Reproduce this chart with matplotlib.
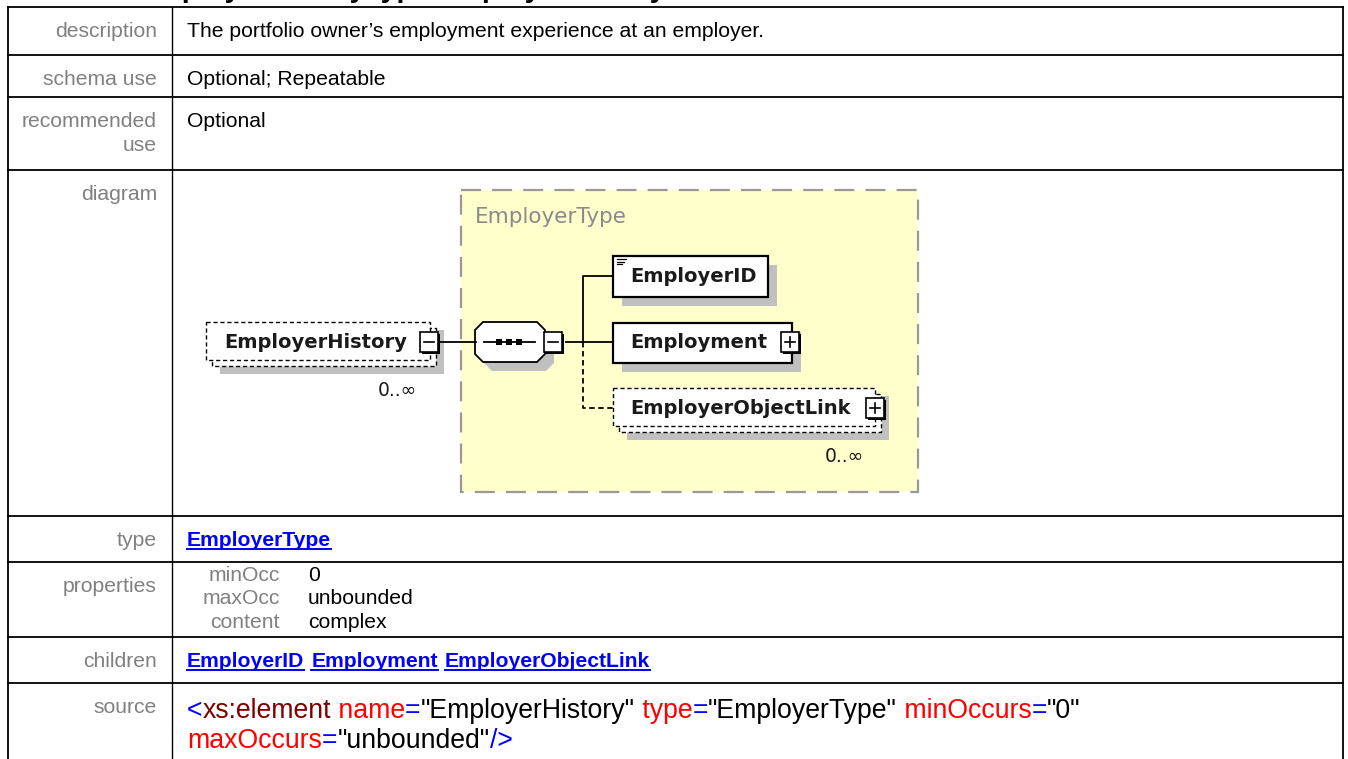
import matplotlib.pyplot as plt
from matplotlib.patches import Rectangle, Polygon

# table content
row_labels = ["description", "schema use", "recommended\nuse", "diagram", "type",
              "properties", "children", "source"]
row_values = ["The portfolio owner\u2019s employment experience at an employer.",
              "Optional; Repeatable", "Optional", "", "", "", "", ""]
type_link = "EmployerType"
prop_names = ["minOcc", "maxOcc", "content"]
prop_values = ["0", "unbounded", "complex"]
children_links = ["EmployerID", "Employment", "EmployerObjectLink"]
title_text = "element EmployerHistoryType/EmployerHistory"

# source: (text, colour) pieces, two lines
source_lines = [
    [("<", "#0000ff"), ("xs:element", "#800000"), (" name", "#ff0000"), ("=", "#0000ff"),
     ("\"EmployerHistory\"", "#000000"), (" type", "#ff0000"), ("=", "#0000ff"),
     ("\"EmployerType\"", "#000000"), (" minOccurs", "#ff0000"), ("=", "#0000ff"),
     ("\"0\"", "#000000")],
    [("maxOccurs", "#ff0000"), ("=", "#0000ff"), ("\"unbounded\"", "#000000"), ("/>", "#0000ff")],
]

# layout (pixels)
W, H = 1348, 759
row_edges = [7, 55, 97, 170, 516, 562, 637, 683, 770]
x_left, x_div, x_right = 8, 172, 1343

fig = plt.figure(figsize=(W / 100, H / 100), dpi=100)
ax = fig.add_axes([0, 0, 1, 1])
ax.set_xlim(0, W)
ax.set_ylim(H, 0)
ax.axis("off")

font = "Liberation Sans"
gray = "#808080"
fs = 15.2

# title (mostly cut off at top)
ax.text(22, -3, title_text, fontsize=20.5, fontweight="bold", family=font,
        ha="left", va="baseline", clip_on=False)

# grid lines
for y in row_edges:
    ax.plot([x_left, x_right], [y, y], color="black", lw=1.3)
ax.plot([x_left, x_left], [row_edges[0], H], color="black", lw=1.3)
ax.plot([x_right, x_right], [row_edges[0], H], color="black", lw=1.3)
ax.plot([x_div, x_div], [row_edges[0], H], color="black", lw=1.0)

for i, lab in enumerate(row_labels):
    top = row_edges[i]
    lines = lab.split("\n")
    for k, ln in enumerate(lines):
        ax.text(157, top + 30 + k * 24, ln, fontsize=fs, family=font, color=gray,
                ha="right", va="baseline")
    if row_values[i]:
        ax.text(187, top + 30, row_values[i], fontsize=fs, family=font,
                color="black", ha="left", va="baseline")

r = fig.canvas.get_renderer()


def link(x, y, s):
    t = ax.text(x, y, s, fontsize=fs, family=font, fontweight="bold",
                color="#0000ff", ha="left", va="baseline")
    w = t.get_window_extent(renderer=r).width
    ax.plot([x, x + w], [y + 3, y + 3], color="#0000ff", lw=1.4)
    return w


link(187, 546, type_link)
xx = 187
for c in children_links:
    xx += link(xx, 667, c) + 7

# properties
for j, (n, v) in enumerate(zip(prop_names, prop_values)):
    y = 581 + j * 23.5
    ax.text(280, y, n, fontsize=fs, family=font, color=gray, ha="right", va="baseline")
    ax.text(308, y, v, fontsize=fs, family=font, color="black", ha="left", va="baseline")

# source
for k, line in enumerate(source_lines):
    x = 187
    y = 718 + k * 30
    for s, col in line:
        t = ax.text(x, y, s, fontsize=19.2, family=font, color=col, ha="left", va="baseline")
        x += t.get_window_extent(renderer=r).width

# ---- diagram ----
shadow = "#c0c0c0"
dfont = "DejaVu Sans"
txtcol = "#1a1a1a"
bfs = 14

ax.add_patch(Rectangle((461, 190), 457, 302, facecolor="#ffffcc", edgecolor="#999999",
                       lw=1.6, ls=(0, (9, 5))))
ax.text(475, 217, "EmployerType", fontsize=15.5, family=dfont, color="#8a8a8a",
        ha="left", va="center")


def box(x0, y0, w, h, dashed=False, multi=False):
    ls = (0, (3, 2)) if dashed else "-"
    if multi:
        ax.add_patch(Rectangle((x0 + 14, y0 + 8), w, h + 6, facecolor=shadow, edgecolor="none"))
        ax.add_patch(Rectangle((x0 + 6, y0 + 6), w, h, facecolor="white", edgecolor="black",
                               lw=1.0, ls=ls))
    else:
        ax.add_patch(Rectangle((x0 + 9, y0 + 9), w, h, facecolor=shadow, edgecolor="none"))
    ax.add_patch(Rectangle((x0, y0), w, h, facecolor="white", edgecolor="black",
                           lw=1.0 if dashed else 1.6, ls=ls))


def pm(x0, y0, plus):
    ax.add_patch(Rectangle((x0 + 2, y0 + 2), 18, 20, facecolor="black", edgecolor="none"))
    ax.add_patch(Rectangle((x0, y0), 18, 20, facecolor="white", edgecolor="black", lw=1.2))
    ax.plot([x0 + 4, x0 + 14], [y0 + 10, y0 + 10], color="black", lw=1.2)
    if plus:
        ax.plot([x0 + 9, x0 + 9], [y0 + 5, y0 + 15], color="black", lw=1.2)


# EmployerHistory
box(206, 322, 224, 38, dashed=True, multi=True)
ax.text(224, 342, "EmployerHistory", fontsize=bfs, family=dfont, fontweight="bold",
        color=txtcol, ha="left", va="center")
pm(420, 332, False)
ax.text(378, 390, "0..\u221e", fontsize=13.5, family=dfont, color=txtcol, ha="left", va="center")

# connector to sequence
ax.plot([440, 476], [342, 342], color="black", lw=1.3)

# sequence compositor
sq = [(483, 322), (537, 322), (545, 330), (545, 354), (537, 362), (483, 362), (475, 354), (475, 330)]
ax.add_patch(Polygon([(px + 9, py + 9) for px, py in sq], facecolor=shadow, edgecolor="none"))
ax.add_patch(Polygon(sq, facecolor="white", edgecolor="black", lw=1.3))
ax.plot([484, 535], [342, 342], color="black", lw=1.3)
for dx in [499, 509, 519]:
    ax.add_patch(Rectangle((dx - 3, 339), 6, 6, facecolor="black"))
pm(544, 332, False)

# branches
ax.plot([566, 583], [342, 342], color="black", lw=1.3)
ax.plot([583, 583, 613], [342, 276, 276], color="black", lw=1.3)
ax.plot([583, 613], [342, 342], color="black", lw=1.3)
ax.plot([583, 583, 613], [342, 408, 408], color="black", lw=1.3, ls=(0, (3, 2)))

# EmployerID
box(613, 256, 155, 41)
for k in range(3):
    ax.plot([617, 626 - k * 2], [259 + k * 2.5, 259 + k * 2.5], color="black", lw=0.9)
ax.text(630, 277, "EmployerID", fontsize=bfs, family=dfont, fontweight="bold",
        color=txtcol, ha="left", va="center")

# Employment
box(613, 323, 179, 40)
ax.text(630, 342, "Employment", fontsize=bfs, family=dfont, fontweight="bold",
        color=txtcol, ha="left", va="center")
pm(781, 332, True)

# EmployerObjectLink
box(613, 388, 262, 38, dashed=True, multi=True)
ax.text(630, 408, "EmployerObjectLink", fontsize=bfs, family=dfont, fontweight="bold",
        color=txtcol, ha="left", va="center")
pm(866, 398, True)
ax.text(825, 457, "0..\u221e", fontsize=13.5, family=dfont, color=txtcol, ha="left", va="center")

fig.savefig("out.png", dpi=100)
